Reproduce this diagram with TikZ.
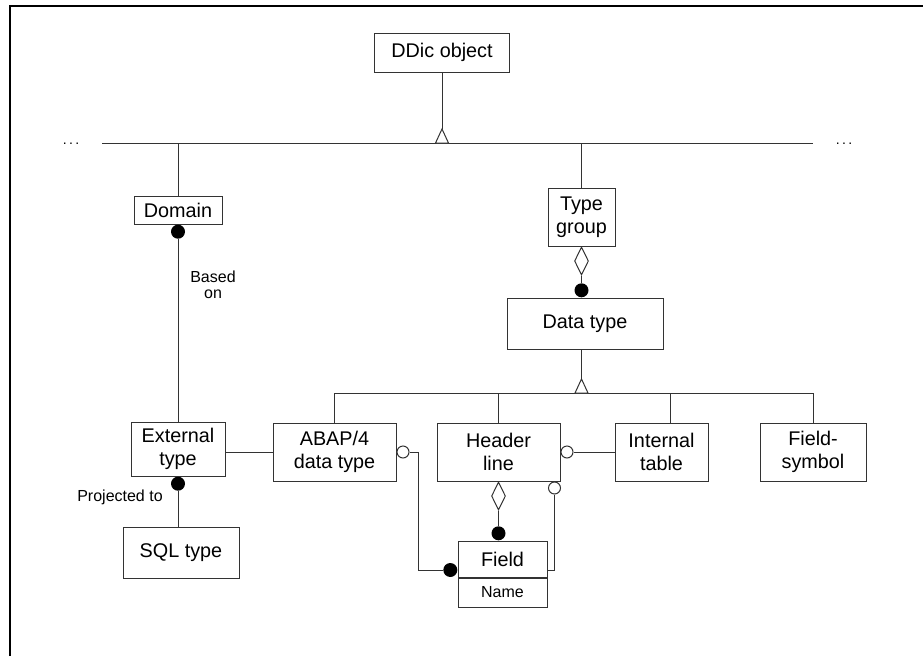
\documentclass[tikz,border=0pt]{standalone}
\usepackage{fontspec}
\setmainfont{Liberation Sans}
\usetikzlibrary{shapes.geometric,calc}
\tikzset{
  conn/.style={draw=black!80, line width=1pt},
  box/.style={draw=black!80, line width=1pt, fill=white, inner sep=0pt, align=center,
              font=\fontsize{19.8}{22.5}\selectfont},
  smallbox/.style={box, font=\fontsize{16}{17}\selectfont},
  note/.style={inner sep=0pt, align=center, font=\fontsize{16}{16}\selectfont},
  ellip/.style={inner sep=0pt, font=\fontsize{14}{14}\selectfont},
  fdot/.style={circle, fill=black, inner sep=0pt, minimum size=14pt},
  odot/.style={circle, draw=black!80, line width=1pt, fill=white, inner sep=0pt, minimum size=12pt},
  aggr/.style={diamond, draw=black!80, line width=1pt, fill=white, inner sep=0pt,
               minimum width=14pt, minimum height=28pt},
  gen/.style={draw=black!80, line width=1pt, fill=white, line join=miter}
}
\begin{document}
\begin{tikzpicture}[x=1pt,y=-1pt]
\useasboundingbox (0,0) rectangle (923,656);

% page frame (top and left edges)
\draw[line width=2.2pt] (10,656) -- (10,6) -- (923,6);

% classes
\node[box, minimum width=135pt, minimum height=39pt] (ddic) at (442,52.5) {DDic object};
\node[box, minimum width=88pt, minimum height=28pt] (domain) at (178,210) {Domain};
\node[box, minimum width=67pt, minimum height=58pt] (typegroup) at (581.5,217) {Type\\group};
\node[box, minimum width=156pt, minimum height=51pt] (datatype) at (585,323.5) {Data type};
\node[box, minimum width=94pt, minimum height=54pt] (ext) at (178,449) {External\\type};
\node[box, minimum width=116pt, minimum height=51pt] (sql) at (181,552.5) {SQL type};
\node[box, minimum width=123pt, minimum height=58pt] (abap) at (334.5,452) {ABAP/4\\data type};
\node[box, minimum width=123pt, minimum height=58pt] (header) at (498.5,452) {Header\\line};
\node[box, minimum width=93pt, minimum height=58pt] (internal) at (661.5,452) {Internal\\table};
\node[box, minimum width=106pt, minimum height=58pt] (fieldsym) at (813,452) {Field-\\symbol};
\node[box, minimum width=89pt, minimum height=36pt] (field) at (502.5,559) {Field};
\node[smallbox, minimum width=89pt, minimum height=29pt, anchor=north] (fname) at (field.south) {Name};

% top generalization bus
\coordinate (busL) at (102,143);
\coordinate (busR) at (813,143);
\coordinate (gen1) at (442,143);
\node[ellip] (dotsL) at (71,144) {.\,.\,.};
\node[ellip] (dotsR) at (844,144) {.\,.\,.};
\draw[conn] (busL) -- (busR);
\draw[conn] (ddic.south) -- ($(gen1)+(0,-14)$);
\draw[gen] ($(gen1)+(-6.5,0)$) -- ($(gen1)+(0,-14)$) -- ($(gen1)+(6.5,0)$) -- cycle;
\draw[conn] (domain.north) -- (domain.north |- busL);
\draw[conn] (typegroup.north) -- (typegroup.north |- busL);

% Domain -- External type
\node[fdot, anchor=north] (dDom) at (domain.south) {};
\draw[conn] (dDom.south) -- (dDom.south |- ext.north);
\node[note] (based) at (213,285) {Based\\on};

% External type -- SQL type
\node[fdot, anchor=north] (dExt) at (ext.south) {};
\draw[conn] (dExt.south) -- (dExt.south |- sql.north);
\node[note] (proj) at (120,497) {Projected to};

% External type -- ABAP/4 data type
\draw[conn] (abap.west -| ext.east) -- (abap.west);

% Type group -- Data type (aggregation)
\node[aggr, anchor=north] (agTG) at (typegroup.south) {};
\node[fdot, anchor=south] (dDT) at (datatype.north -| typegroup.south) {};
\draw[conn] (agTG.south) -- (dDT.north);

% lower generalization bus
\coordinate (gen2) at (581.5,393);
\coordinate (bus2L) at (abap.north |- gen2);
\coordinate (bus2R) at (fieldsym.north |- gen2);
\coordinate (intTop) at (670,423);
\draw[conn] (bus2L) -- (bus2R);
\draw[conn] (datatype.south -| gen2) -- ($(gen2)+(0,-14)$);
\draw[gen] ($(gen2)+(-6.5,0)$) -- ($(gen2)+(0,-14)$) -- ($(gen2)+(6.5,0)$) -- cycle;
\draw[conn] (bus2L) -- (abap.north);
\draw[conn] (header.north |- gen2) -- (header.north);
\draw[conn] (intTop |- gen2) -- (intTop);
\draw[conn] (bus2R) -- (fieldsym.north);

% Header line -- Internal table
\node[odot, anchor=west] (oHdr) at (header.east) {};
\draw[conn] (oHdr.east) -- (internal.west);

% Header line -- Field (aggregation)
\node[aggr, anchor=north] (agHdr) at (header.south) {};
\node[fdot, anchor=south] (dFld) at (field.north -| header.south) {};
\draw[conn] (agHdr.south) -- (dFld.north);

% ABAP/4 data type -- Field
\node[odot, anchor=west] (oAbap) at (abap.east) {};
\node[fdot, anchor=east] (dFldL) at ($(field.west)+(0,11)$) {};
\draw[conn] (oAbap.east) -- ++(9,0) |- (dFldL.west);

% Header line -- Field (right side)
\node[odot, anchor=north] (oHdr2) at ($(header.south east)+(-6,0)$) {};
\draw[conn] (oHdr2.south) |- (field.east |- dFldL);
\end{tikzpicture}
\end{document}
